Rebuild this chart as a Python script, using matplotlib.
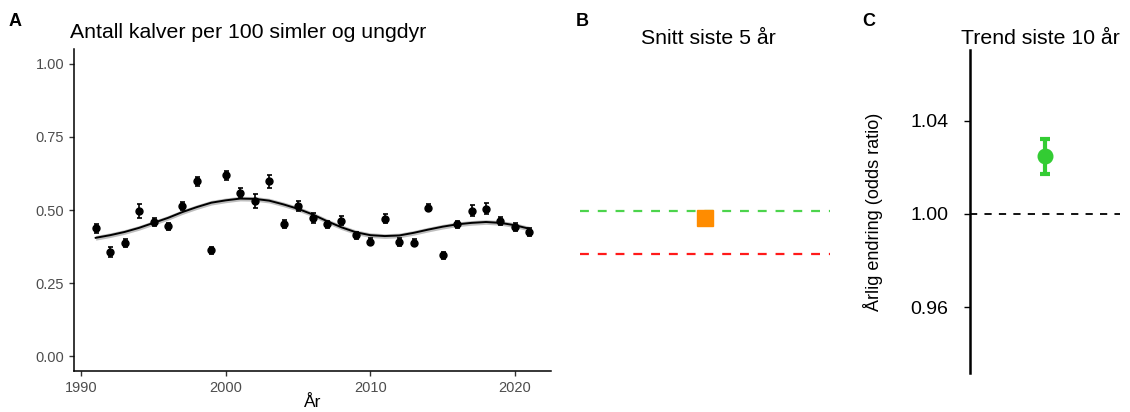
import matplotlib
matplotlib.use("Agg")
import matplotlib.pyplot as plt
import numpy as np

plt.rcParams['font.family'] = ['Liberation Sans', 'DejaVu Sans']

# ---- Panel A data ----
years = list(range(1991, 2022))
calves = [0.437, 0.357, 0.386, 0.496, 0.460, 0.445, 0.513, 0.598, 0.362, 0.618,
          0.559, 0.530, 0.598, 0.451, 0.513, 0.473, 0.451, 0.464, 0.413, 0.391,
          0.470, 0.390, 0.388, 0.507, 0.345, 0.451, 0.498, 0.505, 0.462, 0.443, 0.425]
calves_err = [0.014, 0.017, 0.014, 0.024, 0.014, 0.012, 0.014, 0.016, 0.012, 0.015,
              0.017, 0.023, 0.023, 0.014, 0.017, 0.017, 0.012, 0.014, 0.012, 0.012,
              0.015, 0.014, 0.012, 0.012, 0.012, 0.012, 0.020, 0.020, 0.014, 0.014, 0.014]
smooth = [0.405, 0.414, 0.425, 0.439, 0.456, 0.473, 0.493, 0.510, 0.525, 0.533,
          0.539, 0.538, 0.532, 0.519, 0.504, 0.485, 0.462, 0.441, 0.424, 0.414,
          0.411, 0.413, 0.422, 0.433, 0.443, 0.451, 0.456, 0.459, 0.456, 0.448, 0.436]
smooth_se = 0.008

# ---- Panel B data ----
mean5 = 0.471
mean5_err = 0.012
line_green = 0.498
line_red = 0.349

# ---- Panel C data ----
trend = 1.0249
trend_lo = 1.0171
trend_hi = 1.0320

W, H = 1130, 412
fig = plt.figure(figsize=(W / 100, H / 100), dpi=100)

def rect(l, r, t, b):
    return [l / W, (H - b) / H, (r - l) / W, (b - t) / H]

TITLE_FS = 15.3

# ---------------- Panel A ----------------
axA = fig.add_axes(rect(74, 551, 49, 371))
sm = np.array(smooth)
axA.fill_between(years, sm - smooth_se, sm + smooth_se, color='#BEBEBE', lw=0, zorder=1)
axA.plot(years, smooth, color='black', lw=1.4, zorder=2)
axA.errorbar(years, calves, yerr=calves_err, fmt='o', color='black', ms=5,
             elinewidth=1.2, capsize=1.8, capthick=1.2, zorder=3)
axA.set_xlim(1989.5, 2022.5)
axA.set_ylim(-0.05, 1.05)
axA.set_xticks([1990, 2000, 2010, 2020])
axA.set_yticks([0.0, 0.25, 0.5, 0.75, 1.0])
axA.set_yticklabels(['0.00', '0.25', '0.50', '0.75', '1.00'])
for s in ['top', 'right']:
    axA.spines[s].set_visible(False)
for s in ['left', 'bottom']:
    axA.spines[s].set_linewidth(1.1)
axA.tick_params(axis='both', labelsize=10.5, colors='#333333', labelcolor='#4D4D4D',
                length=3.5, width=1)
axA.set_xlabel('År', fontsize=12.5, labelpad=0)
fig.text(70 / W, 1 - 32 / H, 'Antall kalver per 100 simler og ungdyr', fontsize=TITLE_FS,
         ha='left', va='center')
fig.text(9 / W, 1 - 22 / H, 'A', fontsize=13, fontweight='bold', ha='left', va='center')

# ---------------- Panel B ----------------
axB = fig.add_axes(rect(580, 830, 49, 371))
axB.axhline(line_green, color='#4CD44C', lw=1.6, ls=(0, (4, 4)))
axB.axhline(line_red, color='#FF1A1A', lw=1.6, ls=(0, (4, 4)))
axB.errorbar([0], [mean5], yerr=[mean5_err], fmt='s', color='#FF8C00', ms=12,
             elinewidth=1.5, capsize=3, zorder=3)
axB.set_xlim(-0.6, 0.6)
axB.set_ylim(-0.05, 1.05)
axB.axis('off')
fig.text(708 / W, 1 - 38 / H, 'Snitt siste 5 år', fontsize=TITLE_FS, ha='center', va='center')
fig.text(576 / W, 1 - 21 / H, 'B', fontsize=13, fontweight='bold', ha='left', va='center')

# ---------------- Panel C ----------------
axC = fig.add_axes(rect(970, 1120, 50, 373))
axC.axhline(1.0, color='black', lw=1.3, ls=(0, (4, 4)))
axC.errorbar([0], [trend], yerr=[[trend - trend_lo], [trend_hi - trend]], fmt='o',
             color='#33CC33', ms=10.5, elinewidth=3, capsize=3.6, capthick=3, zorder=3)
axC.set_xlim(-0.6, 0.6)
axC.set_ylim(0.9318, 1.0703)
axC.set_yticks([0.96, 1.00, 1.04])
axC.set_yticklabels(['0.96', '1.00', '1.04'])
axC.set_xticks([])
for s in ['top', 'right', 'bottom']:
    axC.spines[s].set_visible(False)
axC.spines['left'].set_linewidth(1.8)
axC.tick_params(axis='y', labelsize=14, colors='black', length=4.5, width=1, pad=11)
axC.set_ylabel('Årlig endring (odds ratio)', fontsize=13, labelpad=20)
fig.text(1040 / W, 1 - 38 / H, 'Trend siste 10 år', fontsize=TITLE_FS, ha='center', va='center')
fig.text(862 / W, 1 - 21 / H, 'C', fontsize=13, fontweight='bold', ha='left', va='center')

fig.savefig('out.png', dpi=100)
